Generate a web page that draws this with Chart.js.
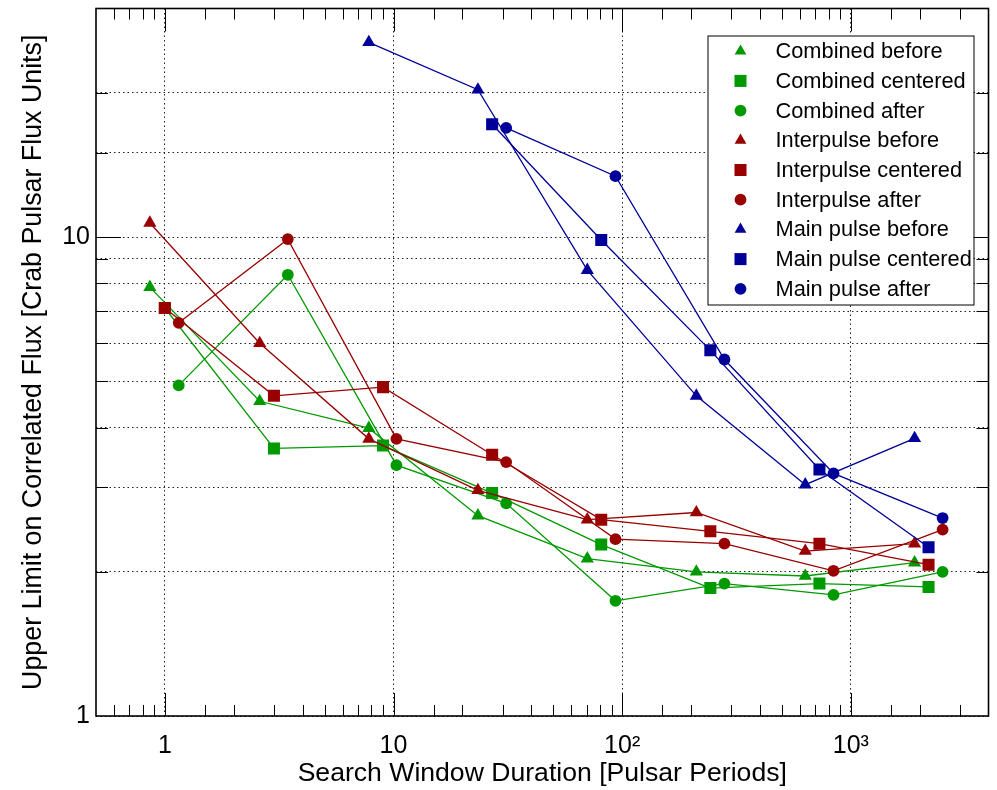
<!DOCTYPE html>
<html>
<head>
<meta charset="utf-8">
<title>Correlated flux upper limits</title>
<script src="https://cdn.jsdelivr.net/npm/chart.js@4.4.1/dist/chart.umd.min.js"></script>
<style>
  html, body { margin: 0; padding: 0; background: #fff; }
  #wrap { width: 997px; height: 790px; }
</style>
</head>
<body>
<div id="wrap"><canvas id="fluxChart" width="997" height="790"></canvas></div>
<script>
// Search window durations [pulsar periods] for each window placement
const beforeX = [0.86, 2.6, 7.8, 23.4, 70.4, 211, 632, 1900];
const centeredX = [1, 3, 9, 27, 81, 243, 729, 2187];
const afterX = [1.15, 3.45, 10.3, 31.1, 93.5, 280, 840, 2520];

// Upper limits [Crab pulsar flux units]
const combinedBefore = [7.86, 4.54, 3.99, 2.62, 2.13, 2.0, 1.96, 2.09];
const combinedCentered = [7.11, 3.62, 3.67, 2.92, 2.28, 1.85, 1.89, 1.86];
const combinedAfter = [4.9, 8.34, 3.34, 2.78, 1.74, 1.89, 1.79, 2.0];
const interpulseBefore = [10.7, 6.0, 3.79, 2.96, 2.57, 2.66, 2.21, 2.29];
const interpulseCentered = [7.11, 4.66, 4.86, 3.51, 2.57, 2.43, 2.29, 2.07];
const interpulseAfter = [6.62, 9.9, 3.79, 3.39, 2.34, 2.29, 2.01, 2.45];
// main pulse only covers the longer windows (last entries of the x arrays)
const mainBefore = [25.5, 20.3, 8.53, 4.66, 3.04, 3.8];
const mainCentered = [17.2, 9.86, 5.8, 3.27, 2.25];
const mainAfter = [16.9, 13.4, 5.55, 3.21, 2.59];

const xTickValues = [1, 10, 100, 1000];
const xTickLabels = ['1', '10', '10²', '10³'];
const yTickValues = [1, 10];
const yTickLabels = ['1', '10'];

const GREEN = '#009900';
const RED = '#990000';
const BLUE = '#000099';
const FONT = "'Liberation Sans', Arial, Helvetica, sans-serif";
const RADIUS = { triangle: 7.6, rect: 8.5, circle: 5.9 };

Chart.defaults.font.family = FONT;
Chart.defaults.color = '#000';

function isDecade(v) {
    const l = Math.log10(v);
    return Math.abs(l - Math.round(l)) < 1e-6;
}

function labelFor(v, values, labels) {
    const i = values.findIndex(t => Math.abs(t - v) / t < 1e-6);
    return i >= 0 ? labels[i] : '';
}

function series(label, xs, ys, color, style, order) {
    const off = xs.length - ys.length;
    return {
        label: label,
        data: ys.map((y, i) => ({ x: xs[i + off], y: y })),
        borderColor: color,
        backgroundColor: color,
        borderWidth: 1.3,
        pointStyle: style,
        pointRadius: RADIUS[style],
        pointHoverRadius: RADIUS[style],
        pointBorderWidth: 0,
        tension: 0,
        fill: false,
        order: order
    };
}

const datasets = [
    series('Combined before', beforeX, combinedBefore, GREEN, 'triangle', 9),
    series('Combined centered', centeredX, combinedCentered, GREEN, 'rect', 8),
    series('Combined after', afterX, combinedAfter, GREEN, 'circle', 7),
    series('Interpulse before', beforeX, interpulseBefore, RED, 'triangle', 6),
    series('Interpulse centered', centeredX, interpulseCentered, RED, 'rect', 5),
    series('Interpulse after', afterX, interpulseAfter, RED, 'circle', 4),
    series('Main pulse before', beforeX, mainBefore, BLUE, 'triangle', 3),
    series('Main pulse centered', centeredX, mainCentered, BLUE, 'rect', 2),
    series('Main pulse after', afterX, mainAfter, BLUE, 'circle', 1)
];

// marker shapes for the legend, same geometry as chart.js point styles
function drawMarker(ctx, style, r, x, y) {
    ctx.beginPath();
    if (style === 'triangle') {
        for (let k = 0; k < 3; k++) {
            const a = -Math.PI / 2 + k * 2 * Math.PI / 3;
            const px = x + r * Math.cos(a), py = y + r * Math.sin(a);
            k === 0 ? ctx.moveTo(px, py) : ctx.lineTo(px, py);
        }
        ctx.closePath();
    } else if (style === 'rect') {
        const s = r / Math.SQRT2;
        ctx.rect(x - s, y - s, 2 * s, 2 * s);
    } else {
        ctx.arc(x, y, r, 0, 2 * Math.PI);
    }
    ctx.fill();
}

// inward tick marks on all four sides, the axes box and the legend
const framePlugin = {
    id: 'frame',
    afterDraw(chart) {
        const { ctx, chartArea: a, scales: { x, y } } = chart;
        ctx.save();
        ctx.strokeStyle = '#000';
        ctx.lineWidth = 1;
        ctx.beginPath();
        x.ticks.forEach(t => {
            const px = Math.round(x.getPixelForValue(t.value)) + 0.5;
            if (px <= a.left + 1 || px >= a.right - 1) return;
            const len = isDecade(t.value) ? 23 : 11;
            ctx.moveTo(px, a.bottom); ctx.lineTo(px, a.bottom - len);
            ctx.moveTo(px, a.top); ctx.lineTo(px, a.top + len);
        });
        y.ticks.forEach(t => {
            const py = Math.round(y.getPixelForValue(t.value)) + 0.5;
            if (py <= a.top + 1 || py >= a.bottom - 1) return;
            const len = isDecade(t.value) ? 25 : 12;
            ctx.moveTo(a.left, py); ctx.lineTo(a.left + len, py);
            ctx.moveTo(a.right, py); ctx.lineTo(a.right - len, py);
        });
        ctx.stroke();
        ctx.lineWidth = 1.6;
        ctx.strokeRect(a.left, a.top, a.right - a.left, a.bottom - a.top);

        // legend box in the upper right corner
        const bx = a.right - 281, by = a.top + 27, bw = 266, bh = 269;
        ctx.fillStyle = '#fff';
        ctx.fillRect(bx, by, bw, bh);
        ctx.lineWidth = 1;
        ctx.strokeRect(bx + 0.5, by + 0.5, bw, bh);
        ctx.font = '21.8px ' + FONT;
        ctx.textBaseline = 'middle';
        chart.data.datasets.forEach((ds, i) => {
            const cy = by + 15.7 + i * 29.7;
            ctx.fillStyle = ds.backgroundColor;
            drawMarker(ctx, ds.pointStyle, ds.pointStyle === 'triangle' ? 6.8 : ds.pointRadius, bx + 33, cy);
            ctx.fillStyle = '#000';
            ctx.fillText(ds.label, bx + 68, cy + 1);
        });
        ctx.restore();
    }
};

const chartCtx = document.getElementById('fluxChart').getContext('2d');
new Chart(chartCtx, {
    type: 'line',
    data: { datasets: datasets },
    options: {
        responsive: false,
        animation: false,
        devicePixelRatio: 1,
        layout: { padding: { left: 0, right: 6, top: 8, bottom: 0 } },
        plugins: {
            legend: { display: false },
            tooltip: { enabled: false }
        },
        scales: {
            x: {
                type: 'logarithmic',
                min: 0.5,
                max: 4000,
                border: { display: false, dash: [1.5, 3] },
                grid: {
                    drawTicks: false,
                    lineWidth: 1,
                    color: c => (c.tick && isDecade(c.tick.value)) ? '#222' : 'rgba(0,0,0,0)'
                },
                ticks: {
                    autoSkip: false,
                    maxRotation: 0,
                    padding: 15,
                    font: { size: 25 },
                    callback: v => labelFor(v, xTickValues, xTickLabels)
                },
                title: {
                    display: true,
                    text: 'Search Window Duration [Pulsar Periods]',
                    font: { size: 26.6 },
                    padding: { top: 0, bottom: 0 }
                },
                afterFit: s => { s.height = 74; s.paddingLeft = 0; s.paddingRight = 0; }
            },
            y: {
                type: 'logarithmic',
                min: 1,
                max: 30,
                border: { display: false, dash: [1.5, 3] },
                grid: { drawTicks: false, lineWidth: 1, color: '#222' },
                ticks: {
                    autoSkip: false,
                    padding: 6,
                    font: { size: 25 },
                    callback: v => labelFor(v, yTickValues, yTickLabels)
                },
                title: {
                    display: true,
                    text: 'Upper Limit on Correlated Flux [Crab Pulsar Flux Units]',
                    font: { size: 26.8 },
                    padding: { top: 18, bottom: 0 }
                },
                afterFit: s => { s.width = 96; s.paddingTop = 0; s.paddingBottom = 0; }
            }
        }
    },
    plugins: [framePlugin]
});
</script>
</body>
</html>
